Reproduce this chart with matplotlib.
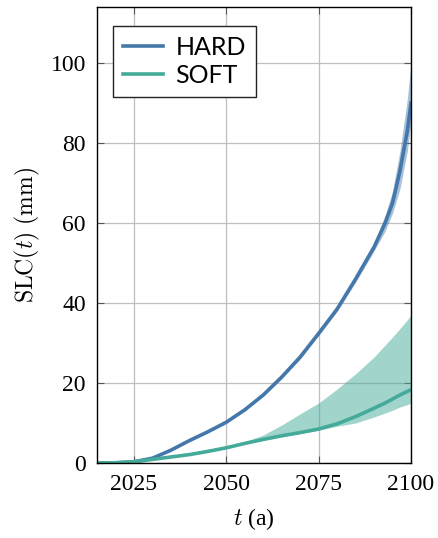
import numpy as np
import matplotlib.pyplot as plt

# data
years = [2015, 2020, 2025, 2030, 2035, 2040, 2045, 2050, 2055, 2060, 2065,
         2070, 2075, 2080, 2085, 2090, 2093, 2095, 2097, 2099, 2100]
hard = [0, 0.05, 0.3, 1.2, 3.2, 5.6, 7.8, 10.2, 13.3, 17.0, 21.5,
        26.5, 32.4, 38.5, 46.0, 54.0, 60.0, 65.0, 73.0, 83.0, 90.0]
hard_lo = [0, 0.05, 0.3, 1.1, 3.0, 5.4, 7.6, 10.0, 13.0, 16.7, 21.1,
           26.0, 31.9, 37.9, 45.2, 53.0, 58.0, 62.5, 68.5, 78.0, 85.0]
hard_hi = [0, 0.05, 0.3, 1.3, 3.4, 5.8, 8.0, 10.4, 13.6, 17.3, 21.9,
           27.0, 32.9, 39.1, 46.8, 55.0, 62.0, 68.0, 78.0, 91.0, 100.0]

soft = [0, 0.05, 0.3, 0.9, 1.5, 2.1, 2.9, 3.8, 4.9, 5.9, 6.8,
        7.6, 8.5, 9.8, 11.6, 13.7, 15.0, 16.0, 17.0, 17.9, 18.3]
soft_lo = [0, 0.05, 0.3, 0.9, 1.5, 2.1, 2.9, 3.8, 4.8, 5.7, 6.6,
           7.4, 8.2, 9.2, 10.0, 11.5, 12.5, 13.2, 14.0, 14.6, 15.0]
soft_hi = [0, 0.05, 0.3, 0.9, 1.5, 2.1, 2.9, 3.9, 5.3, 7.0, 9.5,
           12.3, 15.0, 18.5, 22.3, 26.5, 29.5, 31.5, 33.6, 35.8, 37.0]

c_hard = '#4477AA'
c_soft = '#44AA99'

plt.rcParams['font.family'] = 'serif'
plt.rcParams['font.serif'] = ['Liberation Serif', 'DejaVu Serif']
plt.rcParams['mathtext.fontset'] = 'cm'

fig = plt.figure(figsize=(4.38, 5.38), dpi=100)
ax = fig.add_axes([0.2215, 0.1394, 0.7169, 0.8476])

ax.fill_between(years, hard_lo, hard_hi, color=c_hard, alpha=0.45, lw=0)
ax.fill_between(years, soft_lo, soft_hi, color=c_soft, alpha=0.5, lw=0)
ax.plot(years, hard, color=c_hard, lw=2.6, label='HARD')
ax.plot(years, soft, color=c_soft, lw=2.6, label='SOFT')

ax.set_xlim(2015, 2100)
ax.set_ylim(0, 114)
ax.set_xticks([2025, 2050, 2075, 2100])
ax.set_yticks([0, 20, 40, 60, 80, 100])
ax.grid(color='#bfbfbf', lw=0.9)
ax.set_axisbelow(True)
ax.tick_params(direction='in', top=True, right=True, length=5,
               color='#555555', labelsize=17, pad=8)
for s in ax.spines.values():
    s.set_linewidth(1.0)

ax.set_xlabel('$t$ (a)', fontsize=17, labelpad=8)
ax.set_ylabel(r'$\mathrm{SLC}(t)\ (\mathrm{mm})$', fontsize=17, labelpad=6)

leg = ax.legend(loc='upper left', bbox_to_anchor=(0.051, 0.958),
                borderaxespad=0,
                prop={'family': 'Lato', 'size': 18}, fancybox=False,
                edgecolor='#222222', framealpha=1, handlelength=1.6,
                handletextpad=0.5, borderpad=0.4, labelspacing=0.2)
leg.get_frame().set_linewidth(1.0)

plt.savefig('out.png', dpi=100)
